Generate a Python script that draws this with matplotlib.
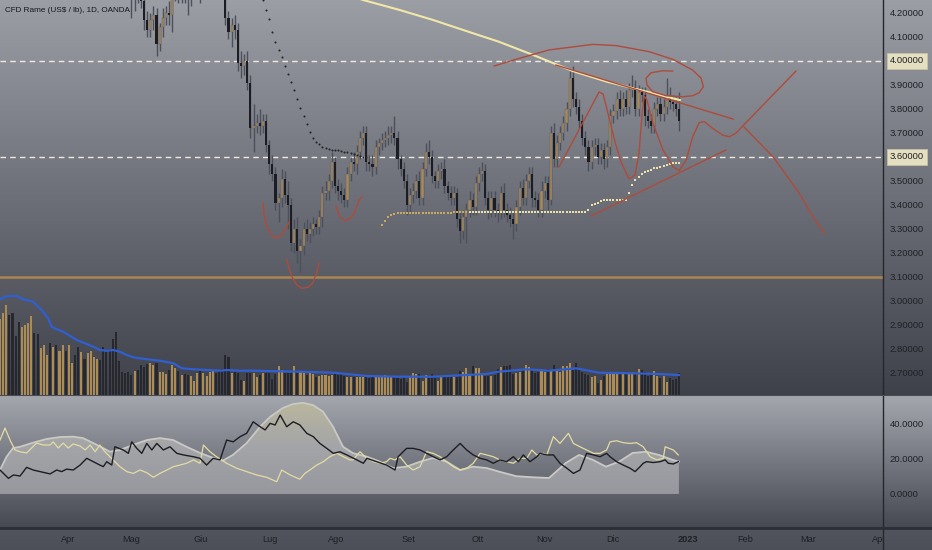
import matplotlib
matplotlib.use('Agg')
import matplotlib.pyplot as plt
import matplotlib.transforms as mtransforms
from matplotlib.colors import LinearSegmentedColormap
from matplotlib.lines import Line2D
import numpy as np

plt.rcParams['font.family'] = ['Liberation Sans', 'DejaVu Sans']

# ---------------- data ----------------
# daily closes, bar 0 = early March 2022, bar 217 = end of Dec 2022
closes = [4.60, 4.75, 4.90, 4.85, 4.70, 4.62, 4.58, 4.60, 4.65, 4.68,
          4.72, 4.70, 4.66, 4.68, 4.72, 4.74, 4.70, 4.72, 4.69, 4.72,
          4.74, 4.70, 4.72, 4.75, 4.74, 4.70, 4.72, 4.68, 4.70, 4.72,
          4.74, 4.78, 4.75, 4.72, 4.70, 4.66, 4.62, 4.55, 4.50, 4.45,
          4.40, 4.36, 4.30, 4.32, 4.28, 4.25, 4.17, 4.13, 4.17, 4.19,
          4.07, 4.14, 4.18, 4.20, 4.19, 4.28, 4.31, 4.27, 4.29, 4.28,
          4.27, 4.30, 4.33, 4.36, 4.33, 4.40, 4.45, 4.48, 4.50, 4.45,
          4.40, 4.32, 4.18, 4.12, 4.15, 4.13, 3.99, 3.98, 4.00, 3.91,
          3.72, 3.73, 3.74, 3.73, 3.75, 3.65, 3.57, 3.53, 3.41, 3.43,
          3.51, 3.44, 3.40, 3.24, 3.30, 3.21, 3.23, 3.30, 3.28, 3.30,
          3.32, 3.31, 3.35, 3.45, 3.46, 3.50, 3.58, 3.48, 3.46, 3.44,
          3.42, 3.53, 3.58, 3.57, 3.62, 3.68, 3.70, 3.58, 3.57, 3.56,
          3.64, 3.66, 3.67, 3.68, 3.69, 3.70, 3.68, 3.59, 3.55, 3.50,
          3.40, 3.44, 3.46, 3.50, 3.43, 3.55, 3.62, 3.60, 3.52, 3.50,
          3.54, 3.55, 3.48, 3.45, 3.43, 3.45, 3.34, 3.29, 3.35, 3.38,
          3.42, 3.39, 3.49, 3.53, 3.54, 3.43, 3.38, 3.43, 3.38, 3.37,
          3.45, 3.38, 3.36, 3.34, 3.32, 3.39, 3.47, 3.43, 3.50, 3.53,
          3.43, 3.42, 3.38, 3.46, 3.49, 3.42, 3.70, 3.59, 3.66, 3.70,
          3.74, 3.80, 3.93, 3.84, 3.81, 3.75, 3.68, 3.64, 3.58, 3.64,
          3.65, 3.60, 3.63, 3.59, 3.64, 3.77, 3.79, 3.84, 3.80, 3.84,
          3.81, 3.88, 3.89, 3.80, 3.87, 3.86, 3.77, 3.75, 3.73, 3.80,
          3.82, 3.78, 3.81, 3.85, 3.83, 3.82, 3.80, 3.75]
first_open = 4.55

# upper / lower wick beyond the body, in cents
hi_ext = [5, 8, 6, 4, 5, 3, 4, 5, 3, 4, 4, 3, 5, 4, 3, 4, 3, 4, 5, 3,
          4, 3, 5, 4, 3, 4, 5, 3, 4, 6, 3, 4, 5, 3, 4, 3, 5, 4, 3, 4,
          4, 5, 8, 6, 4, 3, 6, 4, 3, 4, 3, 2, 4, 3, 5, 3, 4, 3, 4, 3,
          4, 3, 4, 5, 3, 4, 3, 4, 5, 4, 4, 5, 4, 3, 3, 4, 3, 5, 3, 4,
          3, 9, 4, 6, 3, 3, 2, 4, 3, 2, 4, 3, 6, 3, 4, 5, 3, 3, 4, 3,
          3, 2, 3, 3, 4, 3, 4, 2, 3, 3, 3, 3, 2, 4, 3, 3, 3, 3, 3, 4,
          3, 2, 3, 3, 4, 3, 7, 3, 2, 3, 3, 3, 3, 3, 4, 3, 4, 5, 3, 2,
          3, 3, 4, 2, 3, 3, 2, 3, 3, 3, 4, 3, 3, 3, 4, 3, 3, 3, 3, 3,
          3, 4, 3, 3, 3, 3, 3, 4, 3, 3, 3, 3, 3, 4, 3, 3, 3, 4, 3, 3,
          3, 3, 3, 5, 3, 3, 3, 3, 3, 3, 3, 3, 3, 3, 3, 3, 3, 3, 4, 3,
          4, 3, 5, 3, 3, 2, 3, 3, 3, 3, 3, 3, 3, 8, 4, 3, 3, 7]
lo_ext = [5, 6, 8, 5, 4, 3, 6, 4, 3, 4, 3, 4, 3, 4, 5, 3, 4, 3, 4, 3,
          3, 4, 3, 5, 4, 3, 4, 3, 4, 3, 4, 3, 3, 4, 3, 5, 4, 3, 3, 4,
          4, 5, 12, 9, 4, 3, 4, 3, 3, 4, 5, 3, 4, 3, 4, 7, 3, 3, 3, 4,
          8, 4, 3, 3, 9, 3, 3, 4, 3, 4, 3, 4, 3, 3, 6, 4, 3, 5, 4, 3,
          4, 10, 3, 4, 3, 3, 4, 3, 3, 8, 4, 3, 10, 3, 4, 5, 9, 4, 3, 4,
          3, 3, 3, 4, 3, 4, 3, 3, 4, 3, 3, 3, 3, 3, 4, 3, 3, 4, 3, 4,
          3, 3, 3, 3, 3, 3, 3, 4, 3, 3, 4, 3, 3, 3, 3, 3, 3, 3, 3, 3,
          3, 3, 3, 3, 3, 3, 3, 5, 3, 11, 3, 3, 3, 3, 3, 3, 4, 3, 3, 4,
          3, 3, 3, 3, 6, 3, 3, 3, 3, 3, 4, 3, 3, 3, 3, 4, 2, 3, 3, 3,
          3, 3, 3, 3, 3, 3, 3, 3, 4, 3, 3, 3, 3, 4, 3, 3, 3, 3, 3, 3,
          3, 3, 3, 3, 3, 3, 4, 3, 3, 3, 3, 3, 3, 3, 3, 3, 3, 4]

# volume (k contracts)
volume = [76, 82, 90, 80, 82, 59, 73, 68, 70, 72, 79, 62, 61, 47, 50, 40, 52, 48, 50, 44,
          50, 44, 50, 32, 40, 48, 43, 36, 42, 44, 38, 36, 35, 48, 43, 46, 56, 63, 34, 23,
          22, 23, 20, 24, 25, 30, 28, 31, 32, 30, 32, 23, 23, 21, 25, 30, 27, 24, 20, 21,
          20, 19, 14, 22, 24, 22, 19, 23, 24, 22, 25, 26, 40, 38, 22, 23, 22,
          15, 14, 22, 22, 22, 18, 20, 22, 22, 22, 16, 21, 29, 25, 22, 22, 22, 29, 24, 24,
          22, 20, 22, 21, 18, 19, 20, 20, 19, 20, 21, 20, 21, 19, 18, 18, 18, 18, 18, 18,
          19, 17, 18, 18, 18, 18, 20, 18, 18, 18, 17, 16, 18, 13, 19, 22, 21, 21, 14,
          20, 18, 21, 18, 14, 18, 18, 20, 18, 18, 18, 24, 23, 27, 20,
          29, 27, 27, 20, 19, 19, 19, 20, 26, 28, 29, 29, 30, 21, 22, 23, 26, 30, 28, 25,
          22, 23, 24, 23, 26, 24, 30, 26, 23, 29, 29, 32, 25, 32, 27, 23, 21, 20, 18, 19,
          12, 15, 19, 21, 23, 22, 23, 23, 23, 22, 22, 22, 22, 26, 25, 23, 19, 22, 24, 19,
          17, 19, 13, 17, 15, 16, 22]
vol_ma_bar = [0, 1.6, 3.2, 5.3, 7.4, 9.6, 10.6, 12.2, 13.8, 15.4, 16.5, 18.1, 20.2, 22.4,
              24.5, 27.7, 29.8, 31.9, 34.1, 36.2, 38.3, 40.5, 42.6, 46.9, 51.1, 55.4, 58.1,
              61.8, 66.0, 70.3, 72.4, 76.7, 80.9, 95.8, 106.5, 117.2, 127.8, 138.4, 148.9,
              155.3, 159.4, 168.1, 175.4, 184.0, 191.4, 202.2, 210.5, 216.9]
vol_ma = [95.7, 98.3, 99, 99, 95.7, 94.3, 93.3, 88.3, 83.3, 76.7, 68.3, 65.7, 63.3, 59,
          55, 51, 48.3, 45, 44.3, 45, 43.3, 40, 37.7, 35.7, 34.3, 31.7, 26.7,
          25.7, 25, 24.3, 25, 24.3, 24.3, 23.3, 22.3, 19, 18.3, 18.3, 20,
          21, 23.3, 25.7, 24.3, 26.7, 22.3, 21.7, 21, 20]

# long moving average (pale yellow)
ma_bar = [110, 116.0, 127.8, 138.3, 148.9, 159.4, 170.3, 183.0, 193.8, 204.5, 215.0, 217.2]
ma_price = [4.28, 4.254, 4.212, 4.171, 4.125, 4.080, 4.025, 3.958, 3.914, 3.879, 3.844, 3.837]

# dotted black indicator, one dot per bar from bar 82
dots_black_start = 82
dots_black = [4.35, 4.30, 4.254, 4.212, 4.175, 4.121, 4.079, 4.046, 4.016, 3.979,
              3.946, 3.912, 3.879, 3.841, 3.804, 3.771, 3.737, 3.704, 3.679, 3.662,
              3.654, 3.641, 3.637, 3.633, 3.629, 3.629, 3.627, 3.625, 3.621, 3.621,
              3.617, 3.612, 3.608, 3.604, 3.600, 3.598]

# dotted yellow indicator, one dot per bar from bar 122
dots_gold_start = 122
dots_gold = [3.317, 3.333, 3.350, 3.358, 3.362,
             3.365, 3.366, 3.366, 3.366, 3.366, 3.367, 3.366, 3.366, 3.366, 3.366,
             3.367, 3.367, 3.367, 3.367, 3.368, 3.368, 3.368, 3.368, 3.369,
             3.369, 3.369, 3.370, 3.370, 3.370, 3.370, 3.370, 3.370, 3.370, 3.370,
             3.370, 3.371, 3.371, 3.371, 3.371, 3.371, 3.371, 3.371, 3.371, 3.371,
             3.371, 3.371, 3.371, 3.371, 3.371, 3.371, 3.371, 3.371, 3.371, 3.371,
             3.371, 3.371, 3.371, 3.371, 3.371, 3.371, 3.371, 3.371, 3.371, 3.371,
             3.371, 3.371,
             3.380, 3.400, 3.405, 3.410, 3.415, 3.420,
             3.421, 3.421, 3.421, 3.421, 3.421, 3.421, 3.421,
             3.450, 3.483, 3.504, 3.517, 3.529, 3.537, 3.541, 3.546, 3.552, 3.556,
             3.560, 3.562, 3.567, 3.571, 3.573, 3.575, 3.575]

# lower pane: ADX (filled), +DI, -DI
adx_bar = [0, 2.1, 4.2, 6.4, 10.5, 14.9, 19.2, 23.4, 26.5, 29.8, 32.9, 35.1, 38.3, 42.5,
           46.9, 51.1, 55.3, 59.6, 63.9, 68.1, 71.2, 74.4, 78.8, 83.1, 86.3, 90.4, 93.6,
           96.8, 100.0, 103.2, 106.4, 109.6, 112.8, 117.2, 121.4, 125.6, 129.9, 134.2,
           138.4, 142.7, 147.0, 151.1, 155.5, 159.4, 165.0, 170.2, 175.4, 180.8, 185.0,
           189.4, 193.6, 197.8, 202.1, 206.4, 210.5, 214.9, 216.9]
adx_val = [13.5, 21.0, 25.9, 26.6, 28.9, 31.0, 32.1, 32.3, 31.5, 28.7, 25.9, 23.8, 24.8, 27.6,
           30.4, 31.5, 30.4, 26.6, 23.1, 20.3, 18.8, 22.0, 28.7, 37.9, 43.5, 48.5, 50.7,
           51.4, 50.1, 46.4, 37.9, 26.6, 23.0, 21.0, 18.2, 14.6, 15.4, 18.2,
           20.3, 18.2, 13.5, 15.4, 14.6, 12.6, 10.0, 9.4, 9.0, 17.5, 22.0,
           19.2, 15.4, 18.2, 23.1, 23.8, 22.0, 19.2, 18.2]
pdi_bar = [0, 1.6, 3.2, 4.8, 6.4, 8.5, 10.1, 11.7, 13.8, 16.0, 17.0, 18.6, 20.2, 21.8, 23.4,
           25.6, 27.2, 28.8, 30.4, 31.9, 33.5, 35.1, 36.7, 38.3, 40.5, 42.6, 44.7, 46.9, 49.0,
           51.1, 53.3, 55.4, 57.5, 59.6, 61.8, 63.9, 65.0, 67.1, 69.2, 72.4, 75.6, 78.8, 82.0,
           85.2, 88.4, 90.0, 92.7, 95.8, 97.4, 99.0, 101.2, 103.3, 105.4, 107.6, 109.7, 111.8,
           112.8, 115.0, 117.2, 119.3, 121.4, 123.5, 124.6, 126.2, 127.8, 129.9, 132.0, 134.2,
           136.3, 138.4, 140.6, 142.7, 144.8, 147.0, 149.1, 151.2, 153.4, 155.5, 157.6, 159.7,
           161.9, 164.0, 166.1, 168.3, 169.9, 171.5, 173.6, 174.7, 176.8, 178.9, 181.6, 183.2,
           185.3, 187.4, 189.6, 191.7, 193.8, 194.9, 197.0, 199.1, 201.3, 203.4, 205.5, 207.7,
           209.8, 211.9, 212.5, 215.1, 216.7]
pdi_val = [30.4, 37.2, 30.4, 24.8, 23.8, 23.1, 25.9, 28.7, 27.6, 27.6, 29.4, 25.9, 28.7, 25.9, 28.2,
           27.0, 24.8, 27.6, 23.8, 27.6, 23.8, 21.0, 18.2, 15.4, 12.6, 11.6, 13.5, 12.0, 9.4,
           11.6, 13.5, 15.4, 16.3, 17.3, 19.2, 17.3, 27.6, 23.8, 21.0, 17.3, 14.5, 12.6, 10.7,
           9.4, 6.9, 13.5, 10.7, 8.3, 11.6, 13.5, 16.3, 18.2, 21.0, 22.9, 21.0, 19.2,
           19.2, 23.8, 20.1, 18.2, 17.3, 18.2, 20.1, 19.2, 21.0, 16.3, 13.5, 15.4,
           23.8, 22.9, 21.0, 18.2, 15.4, 13.5, 14.5, 17.3, 22.9, 22.0, 21.0, 19.2,
           18.2, 17.3, 20.1, 20.1, 24.8, 22.0, 22.9, 22.0, 32.3, 28.5, 34.2, 28.5,
           26.6, 24.8, 22.9, 22.9, 24.8, 29.4, 30.0, 28.9, 28.5, 28.9, 26.6, 21.0,
           19.2, 20.1, 26.6, 24.8, 22.0]
mdi_bar = [0, 2.7, 4.3, 6.4, 8.5, 10.6, 12.8, 16.0, 18.1, 19.7, 21.3, 23.4, 25.6, 27.7, 29.8,
           31.9, 33.0, 34.1, 35.7, 36.7, 39.4, 41.0, 42.1, 43.7, 45.3, 46.9, 48.5, 50.1, 52.2,
           54.3, 56.5, 58.6, 61.8, 63.9, 66.0, 68.1, 70.3, 72.4, 74.5, 76.7, 78.8, 80.9, 83.1,
           84.7, 86.3, 87.9, 89.5, 91.6, 93.7, 95.8, 98.0, 100.1, 102.2, 104.4, 106.5, 108.6,
           110.8, 114.0, 116.1, 117.2, 120.3, 123.5, 126.2, 127.2, 129.9, 132.0, 134.2, 136.3,
           138.4, 140.6, 142.7, 144.8, 147.0, 149.1, 151.2, 153.4, 155.5, 157.6, 159.7, 161.9,
           164.0, 165.6, 167.2, 169.3, 171.5, 172.5, 174.7, 176.8, 178.9, 181.1, 183.2, 185.3,
           187.4, 189.6, 191.7, 193.8, 194.9, 197.0, 199.1, 201.3, 202.9, 204.5, 205.5, 206.6,
           208.7, 210.9, 212.5, 213.5, 215.1, 216.7]
mdi_val = [13.5, 8.8, 10.7, 10.1, 15.0, 13.5, 12.6, 11.3, 13.5, 12.6, 14.0, 13.5, 16.3, 20.1, 18.2,
           16.3, 15.4, 18.2, 16.3, 26.6, 24.8, 22.9, 29.4, 25.7, 22.9, 28.5, 24.8, 28.5, 24.8,
           26.6, 22.9, 22.0, 21.0, 20.1, 16.3, 20.1, 19.2, 30.4, 29.4, 32.3, 34.2, 40.7, 37.9,
           36.1, 39.8, 38.9, 44.5, 37.9, 40.7, 38.9, 34.2, 32.3, 28.5, 25.7, 22.9, 23.8,
           22.0, 19.2, 17.3, 20.1, 18.2, 16.3, 13.5, 21.0, 25.7, 25.7, 24.8, 22.9,
           21.0, 19.2, 21.0, 24.8, 28.5, 24.8, 22.0, 20.1, 19.2, 17.3, 19.2, 18.2,
           21.0, 18.2, 22.0, 18.2, 21.0, 22.9, 22.0, 22.0, 17.3, 14.5, 11.6, 13.5,
           22.9, 22.0, 21.0, 22.9, 21.0, 18.2, 16.3, 14.5, 12.6, 15.4, 17.3, 18.2,
           17.7, 18.2, 19.2, 17.3, 16.9, 18.2]

# hand-drawn red sketches (bar, price)
cup_a_bar = [84.1, 84.3, 85.2, 86.8, 87.9, 89.5, 91.1, 92.4]
cup_a_px = [3.407, 3.366, 3.310, 3.275, 3.261, 3.268, 3.296, 3.330]
cup_b_bar = [91.6, 92.7, 93.5, 94.8, 96.4, 98.5, 99.9, 100.6, 101.2, 101.9]
cup_b_px = [3.171, 3.122, 3.094, 3.067, 3.053, 3.057, 3.074, 3.100, 3.117, 3.157]
cup_c_bar = [107.3, 108.6, 110.2, 111.8, 113.4, 114.7, 115.6]
cup_c_px = [3.396, 3.350, 3.333, 3.342, 3.371, 3.421, 3.433]
loop_bar = [157.9, 164.9, 175.4, 189.4, 196.8, 207.3, 214.9, 221.3, 224.0, 224.7, 223.4,
            221.3, 218.1, 212.8, 208.5, 206.7, 206.4, 208.0, 211.7, 214.9]
loop_px = [3.979, 4.007, 4.046, 4.069, 4.064, 4.039, 4.007, 3.962, 3.928, 3.893, 3.868,
           3.855, 3.851, 3.855, 3.872, 3.900, 3.928, 3.951, 3.959, 3.958]
wave_bar = [178.6, 185.3, 191.4, 192.7, 194.6, 196.5, 198.4, 201.0, 202.9, 204.2, 205.1,
            205.8, 206.7, 208.6, 211.8, 215.0, 217.0, 219.2, 221.3, 223.4, 225.0, 227.7,
            230.9, 233.0, 235.1, 237.3, 254.3]
wave_px = [3.558, 3.721, 3.871, 3.862, 3.762, 3.662, 3.579, 3.508, 3.525, 3.621, 3.775,
           3.854, 3.837, 3.741, 3.629, 3.559, 3.543, 3.587, 3.684, 3.743, 3.747, 3.719,
           3.691, 3.684, 3.699, 3.729, 3.958]
fall_bar = [237.7, 247.0, 255.3, 259.7, 263.3]
fall_px = [3.725, 3.600, 3.450, 3.350, 3.283]
trend_dn_bar = [177.6, 234.2]
trend_dn_px = [3.983, 3.758]
trend_up_bar = [188.8, 231.9]
trend_up_px = [3.354, 3.629]

levels_dashed = [4.0, 3.6]
level_orange = 3.1

month_pos = [21.7, 41.9, 64.2, 86.3, 107.3, 130.4, 152.7, 173.8, 195.8, 219.8, 238.1, 258.1, 280.8]
month_lab = ['Apr', 'Mag', 'Giu', 'Lug', 'Ago', 'Set', 'Ott', 'Nov', 'Dic', '2023', 'Feb', 'Mar', 'Apr']

# ---------------- figure ----------------
W, H = 932, 550
fig = plt.figure(figsize=(W / 100, H / 100), dpi=100)

# gradient background for the whole window
def ramp(c1, c2, n):
    t = np.linspace(0, 1, n)[:, None]
    return np.array(c1)[None, :] * (1 - t) + np.array(c2)[None, :] * t

img = np.vstack([ramp((156, 158, 166), (62, 65, 74), 395),
                 ramp((164, 167, 174), (70, 73, 82), 133),
                 ramp((82, 85, 94), (76, 79, 88), 22)]) / 255.0
bg = fig.add_axes([0, 0, 1, 1], zorder=0)
bg.imshow(img[:, None, :], aspect='auto', extent=[0, 1, 0, 1])
bg.axis('off')

xlim = (0, 282.1)
plot_w = 883 / W
pane1 = [0, 155 / H, plot_w, 395 / H]
pane2 = [0, 22 / H, plot_w, 133 / H]

n = len(closes)
bars = np.arange(n)
c = np.array(closes)
o = np.array([first_open] + closes[:-1])
h = np.maximum(o, c) + np.array(hi_ext) / 100
l = np.minimum(o, c) - np.array(lo_ext) / 100
up = c >= o
body = c - o
body = np.where(np.abs(body) < 0.004, np.where(up, 0.004, -0.004), body)

# volume underneath the price pane
axv = fig.add_axes(pane1, zorder=1)
axv.set_facecolor('none')
vol = np.array(volume)
axv.bar(bars[up], vol[up], width=0.66, color='#ad8c54', zorder=2)
axv.bar(bars[~up], vol[~up], width=0.66, color='#27282d', zorder=2)
axv.plot(vol_ma_bar, vol_ma, color='#2f5fd2', lw=1.6, zorder=3)
axv.set_xlim(*xlim)
axv.set_ylim(0, max(volume) * 4.39)
axv.axis('off')

# price pane
ax = fig.add_axes(pane1, zorder=2)
ax.set_facecolor('none')
ax.set_xlim(*xlim)
ax.set_ylim(2.608, 4.254)

ax.axhline(level_orange, color='#a9874f', lw=1.8, zorder=2)
for lv in levels_dashed:
    ax.axhline(lv, color='#ecebe0', lw=1.0, ls=(0, (4, 3)), zorder=2)

ax.vlines(bars, l, h, color='#4c505a', lw=1.0, zorder=3)
ax.bar(bars[up], body[up], bottom=o[up], width=0.68, color='#a8895a',
       edgecolor='#5a5d66', linewidth=0.3, zorder=4)
ax.bar(bars[~up], body[~up], bottom=o[~up], width=0.68, color='#1c1d22', zorder=4)

ax.plot(ma_bar, ma_price, color='#f1e7a8', lw=1.5, zorder=5)
ax.scatter(np.arange(len(dots_black)) + dots_black_start, dots_black, s=2.2,
           color='#23242a', lw=0, zorder=5)
gx = np.arange(len(dots_gold)) + dots_gold_start
gy = np.array(dots_gold)
early = gx < 150
ax.scatter(gx[early], gy[early], s=2.6, marker='s', color='#c9a95e', lw=0, zorder=5)
ax.scatter(gx[~early], gy[~early], s=2.6, marker='s', color='#ece2aa', lw=0, zorder=5)

red = '#ae4b3b'
for xs, ys in [(cup_a_bar, cup_a_px), (cup_b_bar, cup_b_px), (cup_c_bar, cup_c_px),
               (loop_bar, loop_px), (wave_bar, wave_px), (fall_bar, fall_px),
               (trend_dn_bar, trend_dn_px), (trend_up_bar, trend_up_px)]:
    ax.plot(xs, ys, color=red, lw=1.0, zorder=6, solid_joinstyle='round')

ticks = [t / 10 for t in range(27, 43) if t not in (36, 40)]
ax.set_yticks(ticks)
ax.set_yticklabels(['%.5f' % t for t in ticks])
ax.yaxis.tick_right()
ax.tick_params(axis='y', length=0, pad=5, labelsize=6.8, labelcolor='#1f2126')
ax.set_xticks([])
for s in ax.spines.values():
    s.set_visible(False)

tr = mtransforms.blended_transform_factory(ax.transAxes, ax.transData)
for lv in levels_dashed:
    ax.text(1 + 7 / 883, lv, '%.5f' % lv, transform=tr, fontsize=6.8, color='#1f2126',
            va='center', ha='left', clip_on=False, zorder=7,
            bbox=dict(boxstyle='square,pad=0.35', fc='#e3dfc0', ec='#c9c5a4', lw=0.5))

fig.text(5 / W, 1 - 11 / H, 'CFD Rame (US$ / lb), 1D, OANDA', fontsize=5.9,
         color='#16171b', va='center', ha='left', zorder=10)

# indicator pane
ax2 = fig.add_axes(pane2, zorder=2)
ax2.set_facecolor('none')
cmap = LinearSegmentedColormap.from_list('adx', ['#96989e', '#a4a5a8', '#bdb99b'])
poly = ax2.fill_between(adx_bar, 0, adx_val, facecolor='none', edgecolor='none')
grad = ax2.imshow(np.linspace(0, 1, 200)[:, None], cmap=cmap, aspect='auto',
                  origin='lower', extent=[0, 220, 0, 55], zorder=1)
grad.set_clip_path(poly.get_paths()[0], transform=ax2.transData)
ax2.plot(adx_bar, adx_val, color='#c9c9c5', lw=1.3, zorder=2)
ax2.plot(pdi_bar, pdi_val, color='#e5dba2', lw=0.9, zorder=3)
ax2.plot(mdi_bar, mdi_val, color='#1d1e23', lw=1.0, zorder=4)
ax2.set_xlim(*xlim)
ax2.set_ylim(-19.2, 55.8)
ax2.set_yticks([0, 20, 40])
ax2.set_yticklabels(['0.0000', '20.0000', '40.0000'])
ax2.yaxis.tick_right()
ax2.tick_params(axis='y', length=0, pad=5, labelsize=6.8, labelcolor='#1f2126')
ax2.set_xticks([])
for s in ax2.spines.values():
    s.set_visible(False)

# date strip
ax3 = fig.add_axes([0, 0, plot_w, 22 / H], zorder=2)
ax3.set_facecolor('none')
ax3.set_xlim(*xlim)
ax3.set_ylim(0, 1)
ax3.axis('off')
for p, lab in zip(month_pos, month_lab):
    ax3.text(p, 0.5, lab, fontsize=6.6, color='#1e1f23', ha='center', va='center',
             fontweight='bold' if lab == '2023' else 'normal', clip_on=True)

# separators
fig.add_artist(Line2D([plot_w, plot_w], [0, 1], color='#25272d', lw=1.0, zorder=9))
fig.add_artist(Line2D([0, 1], [22 / H, 22 / H], color='#2c2e35', lw=2.0, zorder=9))
fig.add_artist(Line2D([0, 1], [155 / H, 155 / H], color='#4a4d56', lw=0.8, zorder=9))

fig.savefig('out.png', dpi=100)
